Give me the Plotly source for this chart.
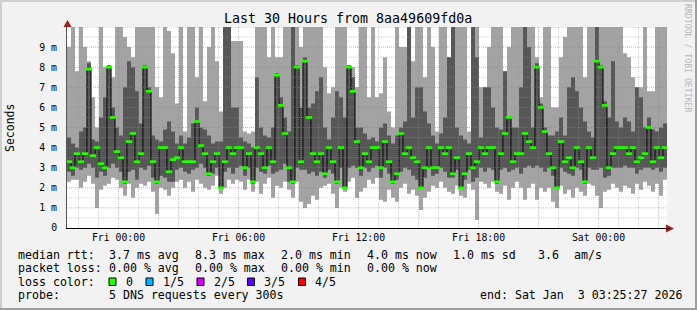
import plotly.graph_objects as go
import pandas as pd

# ---------------- data ----------------
TITLE = "Last 30 Hours from 8aa49609fd0a"
START = pd.Timestamp("2026-01-01 21:25:27")
END = pd.Timestamp("2026-01-03 03:25:27")
STEP = pd.Timedelta(minutes=12)

x_tick_vals = ["2026-01-02 00:00", "2026-01-02 06:00", "2026-01-02 12:00",
               "2026-01-02 18:00", "2026-01-03 00:00"]
x_tick_text = ["Fri 00:00", "Fri 06:00", "Fri 12:00", "Fri 18:00", "Sat 00:00"]
y_tick_vals = [0, 1, 2, 3, 4, 5, 6, 7, 8, 9]
y_tick_text = ["0", "1 m", "2 m", "3 m", "4 m", "5 m", "6 m", "7 m", "8 m", "9 m"]

# ping smoke (ms): max, upper, median, lower, min  (12-minute buckets)
ping_max = [9.0, 10, 7.8, 10, 9.0, 8.3, 6.5, 5.0, 10, 8.0, 8.1, 7.5, 10, 10, 9.5, 9.0, 8.5, 10, 10, 10,
            10, 10, 7.0, 6.5, 10, 9.8, 8.7, 6.2, 10, 4.8, 10, 10, 7.5, 10, 6.3, 9.0, 10, 8.3, 5.8, 10,
            10, 9.3, 9.3, 9.3, 4.8, 4.7, 4.8, 10, 10, 10, 8.5, 10, 8.5, 8.5, 10, 10, 10, 10, 9.0, 10,
            10, 10, 10, 10, 8.0, 6.7, 7.0, 10, 10, 10, 8.1, 8.0, 7.0, 10, 10, 6.5, 10, 6.5, 6.7, 8.5,
            5.8, 5.0, 10, 9.0, 9.0, 10, 8.3, 10, 10, 7.5, 10, 9.0, 4.8, 10, 10, 8.5, 10, 10, 10, 10,
            4.8, 10, 10, 7.0, 7.0, 9.0, 10, 10, 10, 7.8, 9.0, 10, 10, 10, 10, 10, 10, 8.5, 6.5, 10,
            10, 6.0, 6.0, 8.5, 9.5, 10, 10, 10, 10, 7.5, 10, 10, 10, 10, 10, 10, 10, 10, 10, 8.7,
            8.5, 7.5, 7.0, 7.0, 10, 6.8, 6.8, 10, 10, 10]
ping_upper = [4.5, 4.2, 4.0, 4.8, 5.0, 8.2, 4.4, 4.3, 5.5, 6.5, 8.1, 6.0, 5.0, 4.6, 7.0, 8.3, 8.0, 6.8, 5.2, 8.1,
              7.0, 4.6, 4.4, 4.3, 4.9, 5.3, 4.8, 4.2, 4.6, 4.2, 4.5, 5.2, 6.0, 5.0, 4.9, 4.6, 4.2, 4.3, 4.3, 10,
              10, 6.0, 6.0, 4.5, 4.3, 4.2, 4.0, 7.5, 5.0, 4.6, 4.5, 5.0, 7.7, 6.5, 5.5, 4.8, 10, 8.1, 6.0, 8.5,
              6.0, 6.2, 6.8, 7.5, 5.0, 4.4, 5.5, 6.8, 6.5, 5.5, 8.1, 7.5, 5.0, 5.0, 4.7, 4.4, 4.5, 4.3, 5.0, 5.2,
              4.6, 4.2, 4.6, 5.0, 5.3, 10, 5.5, 7.0, 7.0, 5.8, 5.2, 4.6, 4.2, 4.7, 5.5, 8.5, 10, 5.0, 4.6, 4.4,
              4.2, 10, 8.5, 4.5, 7.0, 7.0, 6.0, 5.0, 4.9, 7.8, 5.5, 5.0, 5.0, 7.0, 10, 9.0, 5.0, 8.2, 6.2, 5.0,
              4.6, 4.6, 4.8, 5.5, 4.6, 7.0, 7.5, 6.8, 6.0, 5.3, 4.8, 4.5, 10, 8.1, 6.3, 5.5, 8.3, 5.3, 5.0, 5.5,
              5.3, 4.8, 7.0, 6.5, 5.0, 5.5, 4.9, 4.8, 5.0, 5.2]
ping_median = [3.3, 3.0, 3.7, 3.3, 3.7, 7.9, 3.6, 4.0, 3.2, 3.0, 8.0, 5.5, 3.8, 3.5, 2.3, 4.3, 4.7, 3.3, 3.7, 8.0,
               6.8, 3.3, 2.3, 4.0, 4.0, 2.8, 3.4, 3.5, 4.0, 3.3, 3.3, 3.3, 5.3, 4.1, 3.7, 2.7, 3.3, 3.7, 2.0, 3.3,
               4.0, 3.7, 4.0, 4.0, 3.0, 3.7, 2.3, 4.0, 3.7, 3.0, 4.0, 3.3, 7.6, 6.1, 4.7, 3.0, 2.3, 8.0, 3.3, 8.3,
               5.5, 3.7, 3.3, 3.7, 2.7, 4.0, 3.3, 2.3, 4.0, 2.0, 8.0, 6.8, 4.3, 3.0, 3.7, 3.3, 4.0, 4.0, 3.0, 4.3,
               3.3, 2.3, 2.7, 4.7, 3.7, 4.0, 3.5, 3.3, 2.0, 3.0, 4.0, 3.0, 3.0, 4.0, 3.7, 4.0, 2.7, 3.5, 2.0, 2.7,
               3.7, 3.0, 3.3, 4.0, 3.7, 4.0, 4.0, 2.3, 3.7, 4.7, 5.5, 3.3, 3.7, 3.7, 4.7, 4.3, 4.0, 8.0, 6.0, 4.8,
               3.7, 3.0, 2.0, 4.3, 3.3, 3.5, 3.0, 4.0, 3.3, 2.3, 4.0, 3.5, 8.3, 8.0, 6.1, 3.0, 3.7, 4.0, 4.0, 4.0,
               3.7, 4.0, 3.3, 3.5, 3.7, 5.0, 3.3, 4.0, 3.5, 4.0]
ping_lower = [2.8, 2.6, 3.0, 2.9, 3.0, 3.2, 3.0, 2.5, 2.8, 2.6, 3.0, 3.2, 3.0, 2.8, 2.2, 2.8, 2.9, 2.4, 3.0, 2.9,
              3.1, 2.5, 2.2, 2.6, 2.5, 2.3, 2.3, 2.9, 3.0, 2.8, 2.7, 2.9, 3.0, 3.2, 3.0, 2.6, 2.7, 3.0, 2.0, 2.8,
              3.0, 2.7, 3.0, 3.1, 2.6, 3.0, 2.2, 3.0, 2.8, 2.7, 3.1, 2.7, 2.8, 2.9, 3.2, 2.3, 2.2, 3.0, 2.9, 2.9,
              2.7, 2.8, 2.6, 2.8, 2.5, 2.9, 2.7, 2.2, 3.0, 2.0, 3.0, 3.1, 3.0, 2.6, 3.0, 2.8, 3.0, 3.1, 2.5, 3.0,
              2.7, 2.2, 2.4, 2.8, 3.0, 2.9, 2.6, 2.4, 2.0, 2.5, 3.0, 2.6, 2.7, 3.0, 2.8, 2.5, 2.5, 2.9, 2.0, 2.4,
              2.9, 2.3, 2.5, 3.0, 2.8, 3.0, 2.9, 2.2, 2.9, 3.0, 2.8, 2.9, 3.0, 2.7, 3.0, 3.1, 3.0, 3.1, 3.0, 2.8,
              3.0, 2.6, 2.0, 3.0, 2.8, 2.7, 2.6, 3.0, 2.9, 2.2, 3.0, 2.9, 2.9, 3.0, 2.5, 2.6, 3.0, 3.0, 3.0, 3.1,
              3.0, 3.0, 2.7, 2.9, 3.0, 3.0, 2.9, 3.0, 2.8, 3.0]
ping_min = [2.3, 2.4, 2.4, 2.0, 2.3, 2.6, 2.2, 1.0, 1.9, 2.1, 2.2, 2.5, 2.4, 2.0, 1.6, 2.2, 1.5, 2.0, 2.2, 2.1,
            2.3, 1.8, 0.7, 2.0, 1.9, 1.6, 2.0, 2.3, 2.4, 2.0, 2.3, 1.8, 2.4, 2.2, 2.0, 1.9, 2.1, 2.6, 1.7, 2.0,
            2.4, 2.2, 2.4, 2.3, 1.9, 2.4, 1.8, 2.3, 1.7, 2.2, 2.5, 1.5, 2.1, 2.0, 2.3, 1.9, 1.5, 2.3, 1.3, 1.0,
            1.2, 1.6, 1.4, 2.0, 2.1, 2.2, 1.7, 1.0, 2.0, 1.8, 2.3, 2.5, 1.5, 1.8, 2.0, 2.4, 2.2, 2.5, 1.4, 1.3,
            1.9, 1.5, 1.3, 2.0, 2.2, 1.7, 1.9, 1.6, 0.9, 1.5, 1.8, 2.1, 2.0, 2.3, 2.0, 1.8, 1.7, 2.1, 1.6, 1.5,
            2.2, 1.9, 0.4, 2.3, 2.2, 2.0, 2.3, 1.8, 1.7, 2.1, 1.4, 2.0, 2.3, 2.0, 1.4, 2.0, 2.2, 1.4, 2.0, 1.8,
            2.0, 1.3, 1.0, 2.1, 1.7, 1.9, 1.5, 2.0, 1.8, 1.6, 2.2, 2.1, 1.6, 1.0, 1.8, 1.9, 2.2, 2.0, 1.8, 2.1,
            2.0, 1.7, 2.2, 1.9, 2.3, 2.1, 1.8, 2.2, 1.6, 2.4]

legend_rows = [
    [(16, "median rtt:"), (107, "3.7 ms avg"), (193, "8.3 ms max"), (279, "2.0 ms min"),
     (365, "4.0 ms now"), (451, "1.0 ms sd"), (536, "3.6"), (572, "am/s")],
    [(16, "packet loss:"), (107, "0.00 % avg"), (193, "0.00 % max"), (279, "0.00 % min"),
     (365, "0.00 % now")],
    [(16, "loss color:")],
    [(16, "probe:"), (107, "5 DNS requests every 300s"), (478, "end: Sat Jan  3 03:25:27 2026")],
]
loss_labels = ["0", "1/5", "2/5", "3/5", "4/5"]
loss_colors = ["#26ff00", "#00b8ff", "#dd00ff", "#5e00ff", "#ff0000"]

# ---------------- style ----------------
FONT = "DejaVu Sans Mono"
BG = "#F2F2F2"
SMOKE_LIGHT = "#A3A3A3"
SMOKE_DARK = "#575757"
MINOR_GRID = "rgba(150,150,150,0.45)"
MAJOR_GRID = "rgba(222,94,94,0.55)"
ARROW = "#9b1c1c"

W, H = 697, 310
PL, PT, PW, PH = 67, 27, 600, 201


def fx(px):
    return (px - PL) / PW


def fy(py):
    return (PT + PH - py) / PH


def nb(s):
    return s.replace(" ", "\u00a0")


n = len(ping_median)
t_edges = [START + STEP * i for i in range(n + 1)]
t_mid = [START + STEP * i + STEP / 2 for i in range(n)]


def ext(a):
    return list(a) + [a[-1]]


fig = go.Figure()
fig.add_trace(go.Scatter(x=t_edges, y=ext(ping_min), mode="lines",
                         line=dict(width=0, shape="hv"), hoverinfo="skip"))
fig.add_trace(go.Scatter(x=t_edges, y=ext(ping_max), mode="lines",
                         line=dict(width=0, shape="hv"), fill="tonexty",
                         fillcolor=SMOKE_LIGHT, hoverinfo="skip"))
fig.add_trace(go.Scatter(x=t_edges, y=ext(ping_lower), mode="lines",
                         line=dict(width=0, shape="hv"), hoverinfo="skip"))
fig.add_trace(go.Scatter(x=t_edges, y=ext(ping_upper), mode="lines",
                         line=dict(width=0, shape="hv"), fill="tonexty",
                         fillcolor=SMOKE_DARK, hoverinfo="skip"))
fig.add_trace(go.Scatter(x=t_edges, y=ext(ping_median), mode="lines",
                         line=dict(width=1.2, shape="hv", color="#111111")))
fig.add_trace(go.Scatter(x=t_mid, y=ping_median, mode="markers",
                         marker=dict(symbol="line-ew", size=4.5,
                                     line=dict(width=2.6, color=loss_colors[0]))))

shapes = []
# grid lines (drawn above the smoke like rrdtool does)
for t in pd.date_range("2026-01-01 22:00", "2026-01-03 03:00", freq="1h"):
    major = t.hour % 3 == 0
    shapes.append(dict(type="line", xref="x", yref="paper", x0=t, x1=t, y0=0, y1=1,
                       line=dict(color=MAJOR_GRID if major else MINOR_GRID, width=1,
                                 dash="1px,1px"), layer="above"))
for k in range(1, 21):
    v = k * 0.5
    major = k % 2 == 0
    shapes.append(dict(type="line", xref="paper", yref="y", x0=0, x1=1, y0=v, y1=v,
                       line=dict(color=MAJOR_GRID if major else MINOR_GRID, width=1,
                                 dash="1px,1px"), layer="above"))

# axes arrows
shapes.append(dict(type="path", xref="paper", yref="paper",
                   path=f"M {fx(63.5)} {fy(27)} L {fx(67.5)} {fy(20)} L {fx(71.5)} {fy(27)} Z",
                   fillcolor=ARROW, line=dict(width=0), layer="above"))
shapes.append(dict(type="path", xref="paper", yref="paper",
                   path=f"M {fx(666)} {fy(224.5)} L {fx(674)} {fy(228.5)} L {fx(666)} {fy(232.5)} Z",
                   fillcolor=ARROW, line=dict(width=0), layer="above"))
shapes.append(dict(type="line", xref="paper", yref="paper", x0=fx(667), x1=fx(670),
                   y0=fy(228.5), y1=fy(228.5), line=dict(color="black", width=1)))
shapes.append(dict(type="line", xref="paper", yref="paper", x0=fx(67.5), x1=fx(67.5),
                   y0=fy(27), y1=fy(24), line=dict(color="#555555", width=1)))

# canvas 3D frame
shapes += [
    dict(type="rect", xref="paper", yref="paper", x0=fx(0), x1=fx(W), y0=fy(0), y1=fy(2),
         fillcolor="#CFCFCF", line=dict(width=0)),
    dict(type="rect", xref="paper", yref="paper", x0=fx(0), x1=fx(2), y0=fy(0), y1=fy(H),
         fillcolor="#CFCFCF", line=dict(width=0)),
    dict(type="rect", xref="paper", yref="paper", x0=fx(0), x1=fx(W), y0=fy(H - 2), y1=fy(H),
         fillcolor="#9E9E9E", line=dict(width=0)),
    dict(type="rect", xref="paper", yref="paper", x0=fx(W - 2), x1=fx(W), y0=fy(0), y1=fy(H),
         fillcolor="#9E9E9E", line=dict(width=0)),
]

annotations = []
annotations.append(dict(text=nb(TITLE), xref="paper", yref="paper", x=fx(348), y=fy(18),
                        xanchor="center", yanchor="middle", showarrow=False,
                        font=dict(family=FONT, size=13.3, color="black")))
annotations.append(dict(text="Seconds", xref="paper", yref="paper", x=fx(10), y=fy(128),
                        xanchor="center", yanchor="middle", showarrow=False, textangle=-90,
                        font=dict(family=FONT, size=11.5, color="black")))
annotations.append(dict(text=nb("RRDTOOL / TOBI OETIKER"), xref="paper", yref="paper",
                        x=fx(688), y=fy(58), xanchor="center", yanchor="middle",
                        showarrow=False, textangle=90,
                        font=dict(family=FONT, size=8.2, color="#B8B8B8")))

row_y = [254.5, 268, 281.5, 295]
for ry, row in zip(row_y, legend_rows):
    for px, txt in row:
        annotations.append(dict(text=nb(txt), xref="paper", yref="paper", x=fx(px), y=fy(ry),
                                xanchor="left", yanchor="middle", showarrow=False,
                                font=dict(family=FONT, size=11.6, color="black")))
box_x = [109, 146, 197, 247.5, 298.5]
lab_x = [124, 160.5, 211.5, 262, 313]
for bx, lx, lab, col in zip(box_x, lab_x, loss_labels, loss_colors):
    shapes.append(dict(type="rect", xref="paper", yref="paper", x0=fx(bx), x1=fx(bx + 7),
                       y0=fy(278), y1=fy(285.5), fillcolor=col,
                       line=dict(color="black", width=1)))
    annotations.append(dict(text=lab, xref="paper", yref="paper", x=fx(lx), y=fy(281.5),
                            xanchor="left", yanchor="middle", showarrow=False,
                            font=dict(family=FONT, size=11.6, color="black")))

fig.update_layout(
    width=W, height=H,
    margin=dict(l=PL, r=W - PL - PW, t=PT, b=H - PT - PH, pad=0),
    paper_bgcolor=BG, plot_bgcolor="white",
    showlegend=False,
    shapes=shapes, annotations=annotations,
    xaxis=dict(range=[START, END], tickvals=x_tick_vals, ticktext=x_tick_text,
               showgrid=False, zeroline=False, showline=True, linecolor="black",
               linewidth=1, ticks="", ticklabelstandoff=0,
               tickfont=dict(family=FONT, size=9.8, color="black")),
    yaxis=dict(range=[0, 10], tickvals=y_tick_vals, ticktext=y_tick_text,
               showgrid=False, zeroline=False, showline=True, linecolor="#555555",
               linewidth=1, ticks="", ticklabelstandoff=7,
               tickfont=dict(family=FONT, size=9.8, color="black")),
)

fig.write_html("out.html")
